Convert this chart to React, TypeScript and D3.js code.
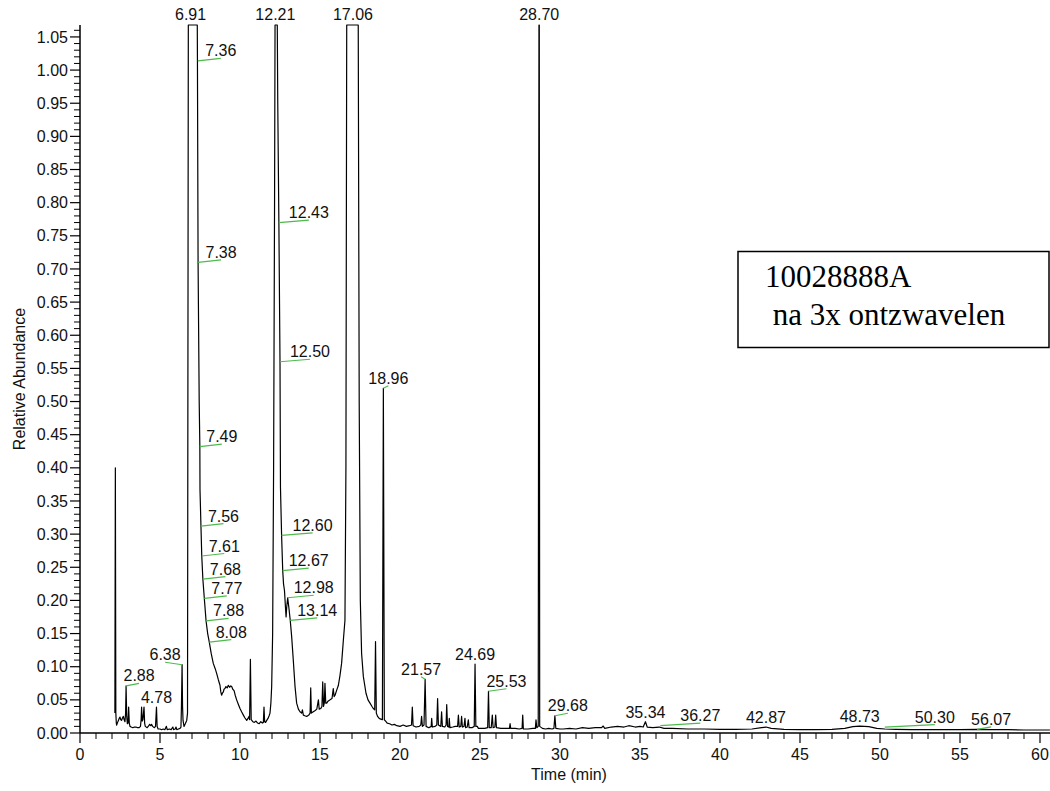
import React from "react";
import * as d3 from "d3";

// ---------------- DATA ----------------
// Chromatogram trace, [retention time (min), relative abundance]
const traceStart: [number, number][] = [
  [2.18, 0.03], [2.21, 0.40], [2.24, 0.03], [2.27, 0.015], [2.29, 0.012], [2.35, 0.016], [2.4, 0.019],
  [2.45, 0.022], [2.5, 0.024], [2.55, 0.02], [2.6, 0.019], [2.66, 0.023], [2.71, 0.025], [2.76, 0.02],
  [2.81, 0.017], [2.85, 0.03], [2.88, 0.071], [2.92, 0.025], [2.96, 0.014], [3.0, 0.015], [3.04, 0.039],
  [3.08, 0.015], [3.125, 0.01], [3.2, 0.009], [3.3, 0.008], [3.4, 0.009], [3.5, 0.009], [3.6, 0.008],
  [3.7, 0.008], [3.78, 0.01], [3.82, 0.02], [3.85, 0.039], [3.89, 0.018], [3.93, 0.02], [3.97, 0.03],
  [4.0, 0.039], [4.04, 0.015], [4.08, 0.01], [4.2, 0.008], [4.3, 0.011], [4.35, 0.013], [4.42, 0.011],
  [4.47, 0.013], [4.54, 0.01], [4.65, 0.008], [4.72, 0.01], [4.78, 0.039], [4.82, 0.01], [4.88, 0.006],
  [5.0, 0.006], [5.1, 0.005], [5.2, 0.006], [5.3, 0.005], [5.4, 0.01], [5.45, 0.005], [5.6, 0.006],
  [5.7, 0.005], [5.8, 0.009], [5.85, 0.005], [5.95, 0.006], [6.0, 0.009], [6.05, 0.005], [6.15, 0.006],
  [6.25, 0.007], [6.31, 0.009], [6.34, 0.04], [6.38, 0.103], [6.41, 0.04], [6.44, 0.019], [6.5, 0.01],
  [6.58, 0.014], [6.67, 0.019], [6.72, 0.03],
];

const tracePeak1: [number, number][] = [
  [6.77, 1.3], [6.91, 1.6], [7.33, 1.3], [7.34, 1.014], [7.38, 0.71], [7.45, 0.5], [7.49, 0.432],
  [7.5, 0.367], [7.56, 0.312], [7.61, 0.267], [7.68, 0.232], [7.77, 0.203], [7.88, 0.169], [7.98, 0.15],
  [8.08, 0.137], [8.2, 0.12], [8.33, 0.105], [8.45, 0.097], [8.54, 0.09], [8.65, 0.08], [8.75, 0.072],
  [8.8, 0.062], [8.85, 0.057], [8.9, 0.06], [8.96, 0.062], [9.0, 0.066], [9.06, 0.067], [9.12, 0.07],
  [9.2, 0.068], [9.27, 0.072], [9.35, 0.069], [9.42, 0.071], [9.48, 0.07], [9.55, 0.066], [9.63, 0.064],
  [9.7, 0.057], [9.79, 0.05], [9.9, 0.043], [10.0, 0.037], [10.1, 0.032], [10.21, 0.027], [10.3, 0.023],
  [10.42, 0.019], [10.5, 0.022], [10.56, 0.025], [10.6, 0.02], [10.65, 0.111], [10.7, 0.02], [10.8, 0.017],
  [10.9, 0.016], [11.0, 0.018], [11.1, 0.015], [11.2, 0.014], [11.3, 0.017], [11.4, 0.015], [11.46, 0.016],
  [11.5, 0.039], [11.54, 0.017], [11.6, 0.016], [11.67, 0.019], [11.75, 0.022], [11.82, 0.026],
  [11.875, 0.03], [11.93, 0.045], [11.98, 0.07], [12.04, 0.15], [12.1, 0.4], [12.16, 0.8],
];

const tracePeak2: [number, number][] = [
  [12.19, 1.3], [12.21, 1.6], [12.33, 1.3], [12.36, 0.95], [12.43, 0.77], [12.5, 0.56], [12.53, 0.37],
  [12.6, 0.298], [12.67, 0.245], [12.72, 0.225], [12.78, 0.215], [12.84, 0.19], [12.88, 0.175],
  [12.92, 0.19], [12.98, 0.204], [13.05, 0.19], [13.14, 0.17], [13.23, 0.145], [13.33, 0.11],
  [13.44, 0.07], [13.54, 0.045], [13.65, 0.036], [13.75, 0.032], [13.85, 0.03], [13.9, 0.035],
  [13.96, 0.027], [14.05, 0.026], [14.17, 0.025], [14.3, 0.027], [14.38, 0.03], [14.42, 0.068],
  [14.46, 0.03], [14.58, 0.032], [14.7, 0.034], [14.8, 0.036], [14.9, 0.05], [14.95, 0.036],
  [15.05, 0.037], [15.12, 0.04], [15.17, 0.077], [15.22, 0.04], [15.27, 0.045], [15.31, 0.075],
  [15.36, 0.045], [15.42, 0.045], [15.5, 0.048], [15.63, 0.05], [15.75, 0.052], [15.83, 0.067],
  [15.88, 0.055], [15.94, 0.057], [16.05, 0.065], [16.15, 0.072], [16.25, 0.087], [16.35, 0.105],
  [16.46, 0.14], [16.56, 0.17], [16.62, 0.4],
];

const tracePeak3: [number, number][] = [
  [16.67, 1.3], [17.06, 1.6], [17.39, 1.3], [17.45, 0.5], [17.52, 0.2], [17.6, 0.12], [17.71, 0.085],
  [17.875, 0.06], [18.0, 0.05], [18.125, 0.045], [18.25, 0.04], [18.33, 0.037], [18.42, 0.035],
  [18.47, 0.138], [18.52, 0.03], [18.6, 0.025], [18.7, 0.022], [18.8, 0.021], [18.9, 0.02], [18.96, 0.52],
  [19.02, 0.02], [19.1, 0.018], [19.2, 0.015], [19.35, 0.014], [19.5, 0.012], [19.65, 0.013], [19.8, 0.011],
  [20.0, 0.01], [20.2, 0.012], [20.4, 0.01], [20.6, 0.011], [20.72, 0.012], [20.77, 0.039], [20.82, 0.011],
  [21.0, 0.009], [21.2, 0.01], [21.3, 0.012], [21.35, 0.025], [21.4, 0.01], [21.5, 0.012], [21.57, 0.081],
  [21.63, 0.01], [21.8, 0.008], [21.95, 0.01], [21.98, 0.022], [22.02, 0.009], [22.2, 0.01], [22.3, 0.012],
  [22.35, 0.052], [22.4, 0.012], [22.55, 0.01], [22.6, 0.032], [22.65, 0.01], [22.8, 0.009], [22.88, 0.012],
  [22.92, 0.043], [22.97, 0.01], [23.05, 0.009], [23.08, 0.022], [23.12, 0.008], [23.3, 0.009],
  [23.45, 0.01], [23.6, 0.01], [23.65, 0.027], [23.7, 0.009], [23.8, 0.01], [23.85, 0.025], [23.9, 0.009],
  [24.0, 0.01], [24.06, 0.022], [24.1, 0.008], [24.2, 0.009], [24.27, 0.02], [24.32, 0.008], [24.5, 0.008],
  [24.64, 0.01], [24.69, 0.104], [24.74, 0.01], [24.83, 0.01], [24.9, 0.007], [25.1, 0.007], [25.3, 0.007],
  [25.48, 0.008], [25.53, 0.063], [25.58, 0.008], [25.7, 0.008], [25.77, 0.027], [25.82, 0.008],
  [25.93, 0.009], [25.98, 0.027], [26.03, 0.008], [26.3, 0.007], [26.6, 0.007], [26.84, 0.007],
  [26.88, 0.014], [26.92, 0.007], [27.2, 0.007], [27.45, 0.006], [27.63, 0.007], [27.67, 0.027],
  [27.71, 0.006], [28.0, 0.006], [28.3, 0.007], [28.46, 0.007], [28.5, 0.02], [28.55, 0.008], [28.64, 0.01],
];

const traceTail: [number, number][] = [
  [28.685, 1.3], [28.705, 1.3], [28.73, 0.01], [28.9, 0.007], [29.1, 0.006], [29.3, 0.007], [29.5, 0.006],
  [29.62, 0.007], [29.68, 0.026], [29.74, 0.007], [30.0, 0.006], [30.2, 0.006], [30.6, 0.007], [31.0, 0.006],
  [31.4, 0.008], [31.8, 0.007], [32.2, 0.008], [32.6, 0.008], [32.7, 0.0105], [32.8, 0.007], [33.2, 0.009],
  [33.6, 0.01], [34.0, 0.009], [34.3, 0.011], [34.7, 0.009], [35.0, 0.01], [35.2, 0.009], [35.34, 0.017],
  [35.45, 0.009], [35.8, 0.008], [36.2, 0.009], [36.5, 0.007], [37.0, 0.007], [38.0, 0.006], [39.0, 0.006],
  [40.0, 0.0055], [41.0, 0.0055], [42.0, 0.006], [42.6, 0.008], [42.87, 0.009], [43.2, 0.007],
  [44.0, 0.0055], [45.0, 0.005], [46.0, 0.005], [47.0, 0.0055], [47.8, 0.007], [48.3, 0.0095],
  [48.73, 0.0105], [49.3, 0.0095], [49.8, 0.007], [50.3, 0.006], [51.0, 0.0055], [52.0, 0.005],
  [53.0, 0.005], [54.0, 0.005], [55.0, 0.005], [56.07, 0.0055], [57.0, 0.005], [58.0, 0.005],
  [59.0, 0.0045], [60.0, 0.0045], [60.62, 0.0045],
];

// Peak annotations: retention time and abundance of the annotated point
const labelTimes = [
  2.88, 4.78, 6.38, 6.91, 7.36, 7.38, 7.49, 7.56, 7.61, 7.68, 7.77, 7.88, 8.08,
  12.21, 12.43, 12.5, 12.6, 12.67, 12.98, 13.14, 17.06, 18.96, 21.57, 24.69, 25.53,
  28.7, 29.68, 35.34, 36.27, 42.87, 48.73, 50.3, 56.07,
];
const labelValues = [
  0.071, 0.039, 0.103, 1.6, 1.014, 0.71, 0.432, 0.312, 0.267, 0.232, 0.203, 0.169, 0.137,
  1.6, 0.77, 0.56, 0.298, 0.245, 0.204, 0.17, 1.6, 0.52, 0.081, 0.104, 0.063,
  1.3, 0.026, 0.017, 0.011, 0.009, 0.0105, 0.009, 0.0055,
];
// leader line horizontal length (px); 0 = label sits right on the peak
const labelLeader = [
  13, 0, -17, 0, 23, 23, 22, 22.5, 22.5, 22.5, 22.5, 22.5, 22,
  0, 30, 30, 31, 26, 26, 27, 0, 5, -4, 0, 18,
  0, 13, 0, 40, 0, 0, 50, 14,
];

const xMajorTicks = [0, 5, 10, 15, 20, 25, 30, 35, 40, 45, 50, 55, 60];
const yMajorTicks = [0, 0.05, 0.1, 0.15, 0.2, 0.25, 0.3, 0.35, 0.4, 0.45, 0.5, 0.55, 0.6, 0.65, 0.7, 0.75, 0.8, 0.85, 0.9, 0.95, 1.0, 1.05];

const noteLines = ["10028888A", " na 3x ontzwavelen"];

// ---------------- CHART ----------------
const W = 1050;
const H = 791;
const SANS = "'Liberation Sans', Arial, Helvetica, sans-serif";
const SERIF = "'Liberation Serif', 'Times New Roman', serif";

export default function App() {
  const x = d3.scaleLinear().domain([0, 60.625]).range([80, 1050]);
  const y = d3.scaleLinear().domain([0, 1.068]).range([733, 25]).clamp(true);

  const trace = [...traceStart, ...tracePeak1, ...tracePeak2, ...tracePeak3, ...traceTail];
  const line = d3
    .line<[number, number]>()
    .x((d) => x(d[0]))
    .y((d) => y(d[1]));

  const xMinor = d3.range(0, 61, 1).filter((v) => v % 5 !== 0);
  const yMinor = d3.range(0, 107, 1).map((v) => v / 100).filter((_, i) => i % 5 !== 0);

  const y0 = y(0);
  const xL = x(0);

  return (
    <svg
      width={W}
      height={H}
      viewBox={`0 0 ${W} ${H}`}
      style={{ position: "absolute", left: 0, top: 0, background: "#fff" }}
    >
      <rect x={0} y={0} width={W} height={H} fill="#fff" />

      {/* trace */}
      <path
        d={line(trace) || ""}
        fill="none"
        stroke="#000"
        strokeWidth={1.2}
        strokeLinejoin="round"
      />

      {/* annotations */}
      {labelTimes.map((t, i) => {
        const px = x(t);
        const py = y(labelValues[i]);
        const dx = labelLeader[i];
        const top = labelValues[i] > 1.068;
        if (dx === 0) {
          return (
            <text
              key={"l" + i}
              x={px}
              y={py - (top ? 5 : 4)}
              textAnchor="middle"
              fontFamily={SANS}
              fontSize={16}
              fill="#111"
            >
              {t.toFixed(2)}
            </text>
          );
        }
        const ex = px + dx;
        const ey = py - 2.5;
        return (
          <g key={"l" + i}>
            <line x1={px} y1={py} x2={ex} y2={ey} stroke="#4cbb4c" strokeWidth={1.2} />
            <text
              x={ex}
              y={ey - 2}
              textAnchor="middle"
              fontFamily={SANS}
              fontSize={16}
              fill="#111"
            >
              {t.toFixed(2)}
            </text>
          </g>
        );
      })}

      {/* y axis */}
      <line x1={xL} y1={25} x2={xL} y2={y0} stroke="#000" strokeWidth={1.5} />
      {yMinor.map((v) => (
        <line key={"ym" + v} x1={xL - 6} x2={xL} y1={y(v)} y2={y(v)} stroke="#000" strokeWidth={1} />
      ))}
      {yMajorTicks.map((v) => (
        <g key={"yM" + v}>
          <line x1={xL - 10} x2={xL} y1={y(v)} y2={y(v)} stroke="#000" strokeWidth={1.2} />
          <text
            x={xL - 12}
            y={y(v)}
            dy="0.35em"
            textAnchor="end"
            fontFamily={SANS}
            fontSize={16}
            fill="#111"
          >
            {v.toFixed(2)}
          </text>
        </g>
      ))}
      <text
        transform={`translate(25, ${(25 + y0) / 2}) rotate(-90)`}
        textAnchor="middle"
        fontFamily={SANS}
        fontSize={16}
        fill="#111"
      >
        Relative Abundance
      </text>

      {/* x axis */}
      <line x1={xL} y1={y0} x2={W} y2={y0} stroke="#000" strokeWidth={1.5} />
      {xMinor.map((v) => (
        <line key={"xm" + v} x1={x(v)} x2={x(v)} y1={y0} y2={y0 + 6} stroke="#000" strokeWidth={1} />
      ))}
      {xMajorTicks.map((v) => (
        <g key={"xM" + v}>
          <line x1={x(v)} x2={x(v)} y1={y0} y2={y0 + 10} stroke="#000" strokeWidth={1.2} />
          <text
            x={x(v)}
            y={y0 + 27}
            textAnchor="middle"
            fontFamily={SANS}
            fontSize={16}
            fill="#111"
          >
            {v}
          </text>
        </g>
      ))}
      <text x={569} y={780} textAnchor="middle" fontFamily={SANS} fontSize={16} fill="#111">
        Time (min)
      </text>

      {/* note box */}
      <rect x={738} y={251.5} width={311} height={96} fill="#fff" stroke="#000" strokeWidth={1.5} />
      <text x={765} y={287} fontFamily={SERIF} fontSize={31} fill="#000" style={{ whiteSpace: "pre" }}>
        {noteLines[0]}
      </text>
      <text x={765} y={325} fontFamily={SERIF} fontSize={31} fill="#000" style={{ whiteSpace: "pre" }}>
        {noteLines[1]}
      </text>
    </svg>
  );
}
